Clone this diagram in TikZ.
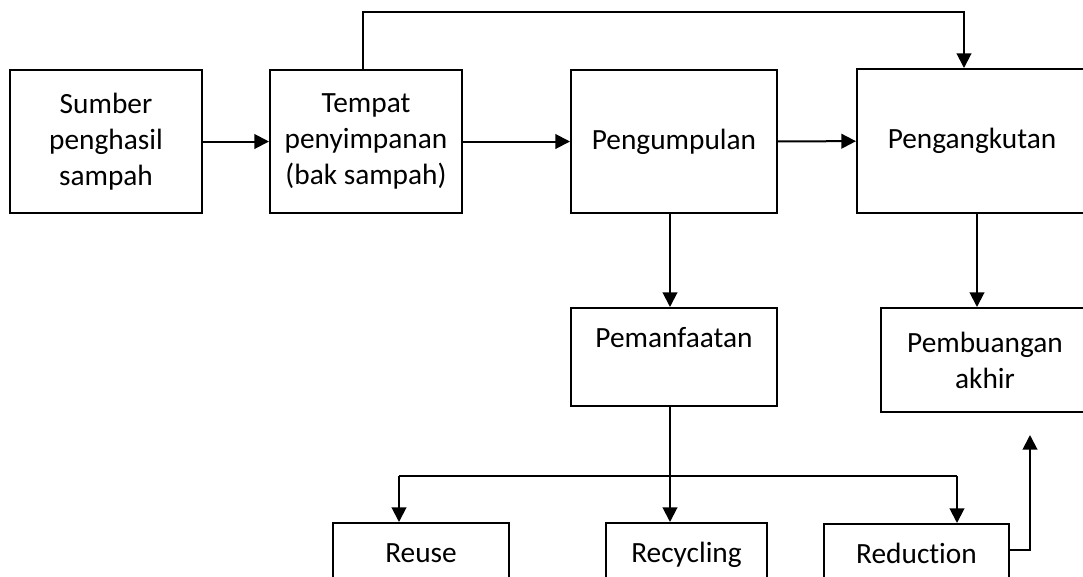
\documentclass[tikz,border=0pt]{standalone}
\usepackage{fontspec}
\setmainfont{Carlito}[Ligatures=NoCommon]
\usetikzlibrary{arrows.meta,calc}

\begin{document}
\begin{tikzpicture}[x=0.75pt, y=-0.75pt,
  box/.style={draw, line width=1.5pt, align=center, inner sep=0pt,
    font=\fontsize{22}{27}\selectfont},
  arr/.style={line width=1.5pt, -{Triangle[length=11pt,width=11pt]}}]
  \useasboundingbox (0,0) rectangle (1083,576);
  \clip (0,0) rectangle (1083,576);

  % Top row
  \node[box, minimum width=144pt, minimum height=107.25pt] (sumber) at (106,141.5)
    {Sumber\\penghasil\\sampah};
  \node[box, minimum width=144pt, minimum height=107.25pt] (tempat) at (366,141.5)
    {Tempat\\penyimpanan\\(bak sampah)};
  \node[box, minimum width=154.5pt, minimum height=107.25pt] (kumpul) at (674,141.5)
    {Pengumpulan};
  \node[box, minimum width=172.5pt, minimum height=108pt] (angkut) at (972,141)
    {Pengangkutan};

  % Middle row
  \node[box, minimum width=154.5pt, minimum height=73.5pt] (manfaat) at (674,357)
    {Pemanfaatan\\[-6pt]\strut};
  \node[box, minimum width=156pt, minimum height=78pt] (buang) at (985,360)
    {Pembuangan\\akhir};

  % Bottom row (cut by the page edge)
  \node[box, minimum width=132pt, minimum height=73.5pt] (reuse) at (421,572)
    {Reuse\\[-6pt]\strut};
  \node[box, minimum width=120.75pt, minimum height=73.5pt] (recyc) at (686.5,572)
    {Recycling\\[-6pt]\strut};
  \node[box, minimum width=138.75pt, minimum height=73.5pt] (reduc) at (916.5,573)
    {Reduction\\[-6pt]\strut};

  % Flow along the top
  \draw[arr] (sumber) -- (tempat);
  \draw[arr] (tempat) -- (kumpul);
  \draw[arr] (kumpul) -- (angkut);
  \draw[arr] ([xshift=-2.25pt]tempat.north) -- ++(0,-57) -| ([xshift=-6pt]angkut.north);

  % Down to the middle row
  \draw[arr] ([xshift=-3pt]kumpul.south) -- ([xshift=-3pt]manfaat.north);
  \draw[arr] ([xshift=3.75pt]angkut.south) -- ([xshift=3.75pt]angkut.south |- buang.north);

  % Branches
  \coordinate (split) at (670,476);
  \coordinate (brL) at (399,476);
  \coordinate (brR) at (957,476);
  \draw[line width=1.5pt] ([xshift=-3pt]manfaat.south) -- (split);
  \draw[line width=1.5pt] (brL) -- (brR);
  \draw[arr] (brL) -- (brL |- reuse.north);
  \draw[arr] (split) -- (split |- recyc.north);
  \draw[arr] (brR) -- (brR |- reduc.north);

  % Reduction back up
  \coordinate (upend) at (1030,435);
  \draw[arr] ([yshift=-20.25pt]reduc.north east) -| (upend);
\end{tikzpicture}
\end{document}
